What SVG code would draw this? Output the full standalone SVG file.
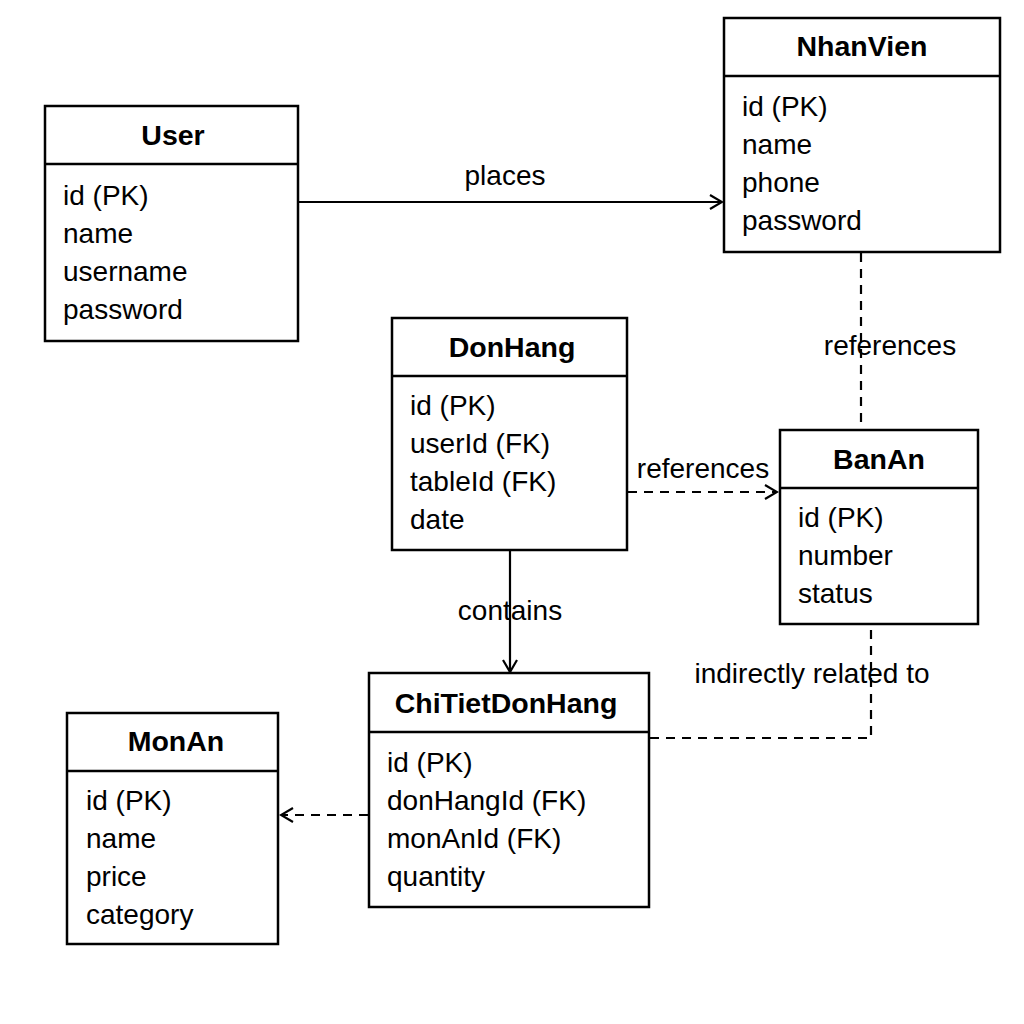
<svg xmlns="http://www.w3.org/2000/svg" width="1024" height="1024" viewBox="0 0 1024 1024">
<defs>
<style>
.box{fill:#fff;stroke:#000;stroke-width:2.5}
.div{stroke:#000;stroke-width:2.5}
.t{font-family:"Liberation Sans",Arial,sans-serif;font-size:28.5px;font-weight:bold;text-anchor:middle;fill:#000}
.a{font-family:"Liberation Sans",Arial,sans-serif;font-size:28px;fill:#000}
.lbl{font-family:"Liberation Sans",Arial,sans-serif;font-size:28px;fill:#000;text-anchor:middle}
.solid{fill:none;stroke:#000;stroke-width:2.2}
.dash{fill:none;stroke:#000;stroke-width:2.2;stroke-dasharray:9 7}
</style>
<marker id="arr" markerWidth="16" markerHeight="16" refX="14" refY="8" orient="auto" markerUnits="userSpaceOnUse">
<path d="M2,1 L14,8 L2,15" fill="none" stroke="#000" stroke-width="2.2"/>
</marker>
</defs>
<rect width="1024" height="1024" fill="#fff"/>
<g id="connectors">
<line class="solid" x1="298" y1="202" x2="722" y2="202" marker-end="url(#arr)"/>
<text class="lbl" x="505" y="185">places</text>
<line class="dash" x1="861" y1="253" x2="861" y2="430"/>
<text class="lbl" x="890" y="355">references</text>
<line class="dash" x1="628" y1="492" x2="777" y2="492" marker-end="url(#arr)"/>
<text class="lbl" x="703" y="478">references</text>
<line class="solid" x1="510" y1="551" x2="510" y2="672" marker-end="url(#arr)"/>
<text class="lbl" x="510" y="620">contains</text>
<polyline class="dash" points="650,738 871,738 871,625"/>
<text class="lbl" x="812" y="683">indirectly related to</text>
<line class="dash" x1="368" y1="815" x2="281" y2="815" marker-end="url(#arr)"/>
</g>
<g id="User">
<rect class="box" x="45" y="106" width="253" height="235"/>
<line class="div" x1="45" y1="164" x2="298" y2="164"/>
<text class="t" x="173" y="145">User</text>
<text class="a" x="63" y="205">id (PK)</text>
<text class="a" x="63" y="243">name</text>
<text class="a" x="63" y="281">username</text>
<text class="a" x="63" y="319">password</text>
</g>
<g id="NhanVien">
<rect class="box" x="724" y="18" width="276" height="234"/>
<line class="div" x1="724" y1="76" x2="1000" y2="76"/>
<text class="t" x="862" y="56">NhanVien</text>
<text class="a" x="742" y="116">id (PK)</text>
<text class="a" x="742" y="154">name</text>
<text class="a" x="742" y="192">phone</text>
<text class="a" x="742" y="230">password</text>
</g>
<g id="DonHang">
<rect class="box" x="392" y="318" width="235" height="232"/>
<line class="div" x1="392" y1="376" x2="627" y2="376"/>
<text class="t" x="512" y="357">DonHang</text>
<text class="a" x="410" y="415">id (PK)</text>
<text class="a" x="410" y="453">userId (FK)</text>
<text class="a" x="410" y="491">tableId (FK)</text>
<text class="a" x="410" y="529">date</text>
</g>
<g id="BanAn">
<rect class="box" x="780" y="430" width="198" height="194"/>
<line class="div" x1="780" y1="488" x2="978" y2="488"/>
<text class="t" x="879" y="469">BanAn</text>
<text class="a" x="798" y="527">id (PK)</text>
<text class="a" x="798" y="565">number</text>
<text class="a" x="798" y="603">status</text>
</g>
<g id="ChiTietDonHang">
<rect class="box" x="369" y="673" width="280" height="234"/>
<line class="div" x1="369" y1="732" x2="649" y2="732"/>
<text class="t" x="506" y="713">ChiTietDonHang</text>
<text class="a" x="387" y="772">id (PK)</text>
<text class="a" x="387" y="810">donHangId (FK)</text>
<text class="a" x="387" y="848">monAnId (FK)</text>
<text class="a" x="387" y="886">quantity</text>
</g>
<g id="MonAn">
<rect class="box" x="67" y="713" width="211" height="231"/>
<line class="div" x1="67" y1="771" x2="278" y2="771"/>
<text class="t" x="176" y="751">MonAn</text>
<text class="a" x="86" y="810">id (PK)</text>
<text class="a" x="86" y="848">name</text>
<text class="a" x="86" y="886">price</text>
<text class="a" x="86" y="924">category</text>
</g>
</svg>
